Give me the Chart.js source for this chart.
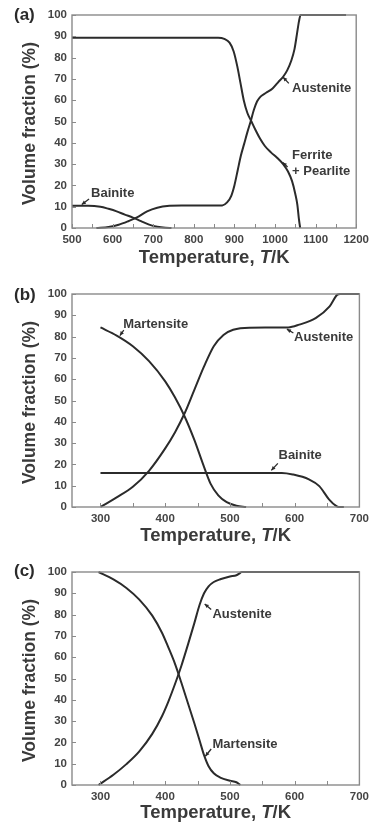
<!DOCTYPE html>
<html>
<head>
<meta charset="utf-8">
<script src="https://cdn.jsdelivr.net/npm/chart.js@4.4.0/dist/chart.umd.min.js"></script>
<style>
  html, body { margin: 0; padding: 0; background: #fff; }
  .panel { position: absolute; left: 0; width: 374px; }
</style>
</head>
<body>
<div class="panel" style="top:0;height:280px"><canvas id="chartA"></canvas></div>
<div class="panel" style="top:280px;height:275px"><canvas id="chartB"></canvas></div>
<div class="panel" style="top:555px;height:275px"><canvas id="chartC"></canvas></div>
<script>
// ---- data (temperature in K, volume fraction in %) ----

// (a)
const aTicksX = [500, 600, 700, 800, 900, 1000, 1100, 1200];
const aFerriteT = [500, 860, 875, 888, 898, 907, 915, 923, 932, 942, 952, 963, 975, 990, 1005, 1020, 1032, 1042, 1050, 1055, 1059, 1062];
const aFerriteV = [89.3, 89.3, 88.8, 87, 83, 76, 68, 60, 54, 50, 46, 42, 38.5, 35.5, 33, 30, 26.5, 22, 16, 11, 4, 0];
const aAusteniteT = [560, 590, 615, 640, 660, 685, 710, 740, 770, 870, 882, 892, 900, 908, 916, 924, 932, 940, 948, 956, 965, 978, 994, 1008, 1020, 1030, 1040, 1048, 1054, 1059, 1063, 1175];
const aAusteniteV = [0, 0.5, 1.5, 3.3, 5, 7.8, 9.5, 10.4, 10.6, 10.6, 12, 15, 20, 27, 34, 39.5, 45, 50, 55.5, 59.5, 61.8, 63.5, 65.5, 68.5, 71, 74, 78.5, 84, 91, 97, 100, 100];
const aBainiteT = [500, 540, 570, 590, 610, 630, 650, 670, 690, 710, 730, 745];
const aBainiteV = [10.5, 10.5, 10, 9, 7.8, 6.3, 4.9, 3.2, 1.6, 0.6, 0.1, 0];

// (b)
const bTicksX = [300, 400, 500, 600, 700];
const bMartensiteT = [300, 325, 350, 375, 400, 415, 430, 445, 458, 470, 482, 495, 510, 525];
const bMartensiteV = [84.3, 80.5, 75.5, 68.5, 59, 51.5, 42.5, 31.5, 20.5, 11, 5.5, 2.3, 0.6, 0];
const bAusteniteT = [300, 325, 350, 375, 400, 415, 430, 445, 460, 475, 490, 505, 530, 590, 607, 633, 654, 666, 670, 700];
const bAusteniteV = [0, 4.5, 9.5, 17, 27.5, 35, 44, 55, 66, 75.5, 80.8, 83.2, 84.2, 84.3, 85.6, 88.8, 94.2, 99.7, 100, 100];
const bBainiteT = [300, 580, 597, 622, 638, 653, 664, 668, 676];
const bBainiteV = [16, 16, 15.3, 13, 9.8, 3.6, 0.5, 0, 0];

// (c)
const cTicksX = [300, 400, 500, 600, 700];
const cMartensiteT = [297, 320, 340, 360, 380, 395, 405, 415, 425, 435, 445, 453, 460, 467, 475, 485, 500, 510, 516];
const cMartensiteV = [100, 96.5, 92.5, 87, 79.5, 71.5, 64.5, 57, 48, 38.5, 29, 21, 14, 8.8, 5.5, 3.5, 2, 1.3, 0];
const cAusteniteT = [297, 320, 340, 360, 380, 395, 405, 415, 425, 435, 445, 453, 460, 467, 475, 485, 500, 510, 515, 518, 700];
const cAusteniteV = [0, 4.8, 9.8, 15.8, 24, 32.3, 39.3, 47.3, 56, 65.8, 76, 84.5, 90, 93.3, 95.3, 96.6, 97.9, 98.5, 99.4, 100, 100];

const yTicks = [0, 10, 20, 30, 40, 50, 60, 70, 80, 90, 100];

const FONT = '"Liberation Sans", Arial, Helvetica, sans-serif';
const LINE = '#2b2b2b';
const TEXT = '#3a3a3a';

function pts(T, V) {
    return T.map((t, i) => ({ x: t, y: V[i] }));
}

// frame, inward ticks, axis titles, panel letter and curve labels
const decorPlugin = {
    id: 'decor',
    afterDraw(chart, args, opts) {
        const { ctx, chartArea: a, scales } = chart;
        const xs = scales.x, ys = scales.y;
        ctx.save();

        // inward ticks
        ctx.strokeStyle = '#8a8a8a';
        ctx.lineWidth = 1;
        ctx.beginPath();
        for (let v = opts.xMin0; v <= xs.max; v += 50) {
            const px = Math.round(xs.getPixelForValue(v)) + 0.5;
            ctx.moveTo(px, a.bottom);
            ctx.lineTo(px, a.bottom - 4);
        }
        yTicks.forEach(v => {
            const py = Math.round(ys.getPixelForValue(v)) + 0.5;
            ctx.moveTo(a.left, py);
            ctx.lineTo(a.left + 4, py);
        });
        ctx.stroke();

        // frame
        ctx.lineWidth = 1.4;
        ctx.strokeStyle = '#8a8a8a';
        ctx.strokeRect(a.left, a.top, a.right - a.left, a.bottom - a.top);

        // y title
        ctx.fillStyle = TEXT;
        ctx.font = 'bold 17.5px ' + FONT;
        ctx.textAlign = 'center';
        ctx.textBaseline = 'middle';
        ctx.save();
        ctx.translate(30, (a.top + a.bottom) / 2 + 2);
        ctx.rotate(-Math.PI / 2);
        ctx.fillText('Volume fraction (%)', 0, 0);
        ctx.restore();

        // x title with italic T
        const parts = [
            ['Temperature, ', 'bold 18.5px ' + FONT],
            ['T', 'italic bold 18.5px ' + FONT],
            ['/K', 'bold 18.5px ' + FONT]
        ];
        let total = 0;
        parts.forEach(p => { ctx.font = p[1]; total += ctx.measureText(p[0]).width; });
        let x = (a.left + a.right) / 2 - total / 2;
        ctx.textAlign = 'left';
        parts.forEach(p => {
            ctx.font = p[1];
            ctx.fillText(p[0], x, a.bottom + opts.xTitleGap);
            x += ctx.measureText(p[0]).width;
        });

        // panel letter
        ctx.font = 'bold 17px ' + FONT;
        ctx.fillStyle = '#2a2a2a';
        ctx.fillText(opts.letter, 14, opts.letterY);

        // curve labels with small arrows
        ctx.font = 'bold 13px ' + FONT;
        ctx.fillStyle = TEXT;
        opts.notes.forEach(n => {
            n.lines.forEach((s, i) => {
                ctx.fillText(s, xs.getPixelForValue(n.x), ys.getPixelForValue(n.y) + i * 16.5);
            });
            const x1 = xs.getPixelForValue(n.arrow[0]), y1 = ys.getPixelForValue(n.arrow[1]);
            const x2 = xs.getPixelForValue(n.arrow[2]), y2 = ys.getPixelForValue(n.arrow[3]);
            ctx.strokeStyle = LINE;
            ctx.lineWidth = 1.3;
            ctx.beginPath();
            ctx.moveTo(x1, y1);
            ctx.lineTo(x2, y2);
            ctx.stroke();
            const ang = Math.atan2(y2 - y1, x2 - x1);
            ctx.fillStyle = LINE;
            ctx.beginPath();
            ctx.moveTo(x2, y2);
            ctx.lineTo(x2 - 4.5 * Math.cos(ang - 0.45), y2 - 4.5 * Math.sin(ang - 0.45));
            ctx.lineTo(x2 - 4.5 * Math.cos(ang + 0.45), y2 - 4.5 * Math.sin(ang + 0.45));
            ctx.closePath();
            ctx.fill();
            ctx.fillStyle = TEXT;
        });
        ctx.restore();
    }
};

function makePanel(id, cfg) {
    const ctx = document.getElementById(id);
    const H = ctx.parentNode.clientHeight;
    return new Chart(ctx, {
        type: 'line',
        data: {
            datasets: cfg.series.map(s => ({
                data: pts(s[0], s[1]),
                borderColor: LINE,
                borderWidth: 2,
                pointRadius: 0,
                fill: false,
                cubicInterpolationMode: 'monotone',
                clip: 4
            }))
        },
        options: {
            responsive: true,
            maintainAspectRatio: false,
            animation: false,
            events: [],
            layout: { padding: { top: cfg.area.top, right: 374 - cfg.area.right, left: 0, bottom: 0 } },
            plugins: {
                legend: { display: false },
                tooltip: { enabled: false },
                decor: {
                    letter: cfg.letter,
                    letterY: cfg.letterY,
                    notes: cfg.notes,
                    xTitleGap: cfg.xTitleGap,
                    xMin0: cfg.ticksX[0]
                }
            },
            scales: {
                x: {
                    type: 'linear',
                    min: cfg.xMin,
                    max: cfg.xMax,
                    afterBuildTicks: sc => { sc.ticks = cfg.ticksX.map(v => ({ value: v })); },
                    afterFit: sc => { sc.height = H - cfg.area.bottom; },
                    grid: { display: false, drawTicks: false },
                    border: { display: false },
                    ticks: {
                        padding: 5,
                        maxRotation: 0,
                        color: '#444',
                        font: { family: FONT, size: 11.5, weight: 'bold' },
                        callback: v => v
                    }
                },
                y: {
                    min: 0,
                    max: 100,
                    afterBuildTicks: sc => { sc.ticks = yTicks.map(v => ({ value: v })); },
                    afterFit: sc => { sc.width = cfg.area.left; },
                    grid: { display: false, drawTicks: false },
                    border: { display: false },
                    ticks: {
                        padding: 5,
                        color: '#444',
                        font: { family: FONT, size: 11.5, weight: 'bold' }
                    }
                }
            }
        },
        plugins: [decorPlugin]
    });
}

makePanel('chartA', {
    xMin: 500, xMax: 1200, ticksX: aTicksX,
    area: { left: 72, top: 15, right: 362, bottom: 228 },
    letter: '(a)', letterY: 15, xTitleGap: 30,
    series: [[aFerriteT, aFerriteV], [aAusteniteT, aAusteniteV], [aBainiteT, aBainiteV]],
    notes: [
        { lines: ['Bainite'], x: 547, y: 16, arrow: [542, 13.6, 524, 11] },
        { lines: ['Austenite'], x: 1042, y: 65.6, arrow: [1034, 67.9, 1020, 70.8] },
        { lines: ['Ferrite', '+ Pearlite'], x: 1042, y: 34.3, arrow: [1031, 28.6, 1019, 30.8] }
    ]
});

makePanel('chartB', {
    xMin: 256, xMax: 700, ticksX: bTicksX,
    area: { left: 72, top: 14, right: 361, bottom: 227 },
    letter: '(b)', letterY: 15, xTitleGap: 29,
    series: [[bMartensiteT, bMartensiteV], [bAusteniteT, bAusteniteV], [bBainiteT, bBainiteV]],
    notes: [
        { lines: ['Martensite'], x: 335, y: 85.5, arrow: [336, 83, 330, 80.5] },
        { lines: ['Austenite'], x: 599, y: 79.8, arrow: [598, 81.7, 588, 83.5] },
        { lines: ['Bainite'], x: 575, y: 24.2, arrow: [574, 20.5, 564, 17.2] }
    ]
});

makePanel('chartC', {
    xMin: 256, xMax: 700, ticksX: cTicksX,
    area: { left: 72, top: 17, right: 361, bottom: 230 },
    letter: '(c)', letterY: 16, xTitleGap: 28,
    series: [[cMartensiteT, cMartensiteV], [cAusteniteT, cAusteniteV]],
    notes: [
        { lines: ['Austenite'], x: 473, y: 80, arrow: [471, 82.4, 461, 85] },
        { lines: ['Martensite'], x: 473, y: 19.2, arrow: [471, 16.9, 462, 13.5] }
    ]
});
</script>
</body>
</html>
